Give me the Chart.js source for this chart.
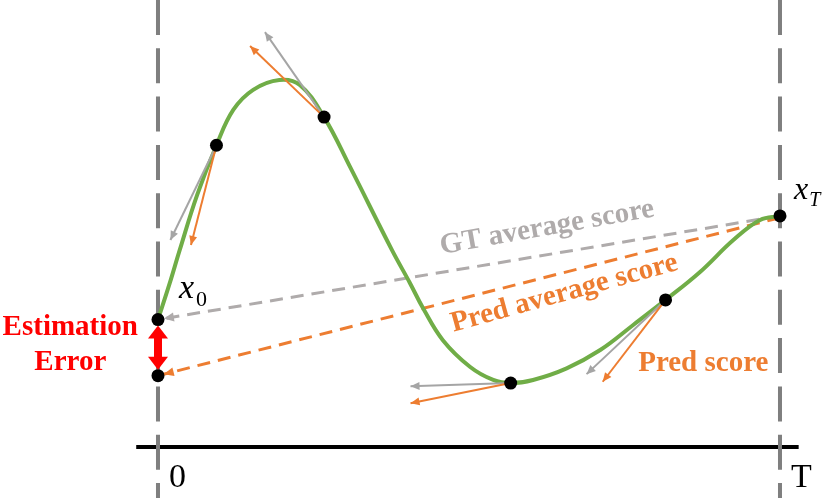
<!DOCTYPE html>
<html>
<head>
<meta charset="utf-8">
<title>Score estimation</title>
<script src="https://cdn.jsdelivr.net/npm/chart.js@4.4.1/dist/chart.umd.min.js"></script>
<style>
  html, body { margin: 0; padding: 0; background: #fff; }
  canvas { display: block; }
</style>
</head>
<body>
<canvas id="scoreChart" width="830" height="498"></canvas>
<script>
// time runs from 0 to T (T = 100), score 0 sits on the time axis
const T = 100;
const curveTime  = [0, 1.9, 3.5, 6.3, 9.4, 12.1, 15.3, 19.5, 22.8, 26.7, 30.9, 37.6, 40.5, 42.6, 45.8, 50.2, 53.9, 56.7, 60.3, 65.7, 71.1, 76.4, 81.6, 87.1, 92.5, 96.8, 100];
const curveScore = [28.5, 36.7, 44.1, 56.4, 67.5, 75.4, 79.9, 82.1, 81.0, 73.8, 62.6, 44.1, 36.7, 31.1, 23.9, 17.9, 15.0, 14.3, 15.0, 17.6, 21.7, 27.3, 32.9, 39.1, 46.3, 50.8, 51.7];

// sampled states (black dots)
const stateTime  = [0, 9.4, 26.7, 56.7, 81.6, 100];
const stateScore = [28.5, 67.5, 73.8, 14.3, 32.9, 51.7];
const predStartScore = 15.95;

// tangent arrows at the four inner states: where each arrow ends
const gtTipTime   = [2.0, 17.2, 40.6, 68.9];
const gtTipScore  = [46.3, 92.8, 13.6, 16.3];
const predTipTime  = [5.3, 14.8, 40.6, 71.5];
const predTipScore = [45.2, 89.7, 9.8, 14.6];

const timeTicks = ['0', 'T'];
const tickTime  = [0, T];

const X_MIN = -25.4, X_MAX = 108.04, Y_MIN = -11.41, Y_MAX = 100;

const GREEN = '#70AD47', ORANGE = '#ED7D31', GRAY = '#A5A5A5', LIGHT = '#AFABAB', GUIDE = '#7F7F7F', RED = '#FF0000';
const SERIF = '"Liberation Serif", "Times New Roman", serif';

const xy = (ts, vs) => ts.map((t, i) => ({ x: t, y: vs[i] }));

const datasets = [];

// time axis
datasets.push({ data: [{ x: -3.5, y: 0 }, { x: 103, y: 0 }], borderColor: '#000', borderWidth: 4, order: 9 });

// start / end guides
tickTime.forEach(t => {
    datasets.push({
        data: [{ x: t, y: Y_MAX }, { x: t, y: Y_MIN }],
        borderColor: GUIDE, borderWidth: 4, borderDash: [35, 13.3], order: 8
    });
});

// average score lines, drawn from x_T back to the start
datasets.push({
    data: [{ x: T, y: stateScore[5] }, { x: 0, y: stateScore[0] }],
    borderColor: LIGHT, borderWidth: 3, borderDash: [13, 8], order: 7,
    head: { len: 10, wid: 9, inset: 6 }
});
datasets.push({
    data: [{ x: T, y: stateScore[5] - 0.4 }, { x: 0, y: predStartScore }],
    borderColor: ORANGE, borderWidth: 3, borderDash: [13, 8], order: 6,
    head: { len: 10, wid: 9, inset: 6 }
});

// trajectory
datasets.push({
    data: xy(curveTime, curveScore),
    borderColor: GREEN, borderWidth: 4, tension: 0.4, order: 5
});

// tangent (score) arrows
for (let i = 0; i < 4; i++) {
    const from = { x: stateTime[i + 1], y: stateScore[i + 1] };
    datasets.push({ data: [from, { x: gtTipTime[i], y: gtTipScore[i] }], borderColor: GRAY, borderWidth: 2, order: 4, head: { len: 9, wid: 8 } });
    datasets.push({ data: [from, { x: predTipTime[i], y: predTipScore[i] }], borderColor: ORANGE, borderWidth: 2, order: 3, head: { len: 9, wid: 8 } });
}

// states
datasets.push({
    data: xy(stateTime, stateScore).concat([{ x: 0, y: predStartScore }]),
    showLine: false, pointRadius: 6.5, pointBackgroundColor: '#000', pointBorderWidth: 0, order: 2
});

// estimation error
datasets.push({
    data: [{ x: 0, y: stateScore[0] }, { x: 0, y: predStartScore }],
    showLine: false, pointRadius: 0, borderColor: RED, order: 1,
    head: { len: 13, wid: 20, inset: 6, both: true, shaft: 8 }
});

function drawHead(ctx, tip, ux, uy, len, wid) {
    const bx = tip.x - ux * len, by = tip.y - uy * len;
    ctx.beginPath();
    ctx.moveTo(tip.x, tip.y);
    ctx.lineTo(bx - uy * wid / 2, by + ux * wid / 2);
    ctx.lineTo(bx + uy * wid / 2, by - ux * wid / 2);
    ctx.closePath();
    ctx.fill();
}

function putText(ctx, str, x, y, font, color, align, angle) {
    ctx.save();
    ctx.translate(x, y);
    if (angle) ctx.rotate(angle * Math.PI / 180);
    ctx.font = font;
    ctx.fillStyle = color;
    ctx.textAlign = align || 'left';
    ctx.textBaseline = 'alphabetic';
    ctx.fillText(str, 0, 0);
    const w = ctx.measureText(str).width;
    ctx.restore();
    return w;
}

const decor = {
    id: 'decor',
    afterDatasetDraw(chart, args) {
        const ds = chart.data.datasets[args.index];
        const head = ds.head;
        if (!head) return;
        const pts = args.meta.data;
        const a = pts[0], b = pts[pts.length - 1];
        const d = Math.hypot(b.x - a.x, b.y - a.y);
        const ux = (b.x - a.x) / d, uy = (b.y - a.y) / d;
        const inset = head.inset || 0;
        const tip1 = { x: b.x - ux * inset, y: b.y - uy * inset };
        const tip0 = { x: a.x + ux * inset, y: a.y + uy * inset };
        const ctx = chart.ctx;
        ctx.save();
        ctx.fillStyle = ds.borderColor;
        if (head.shaft) {
            ctx.strokeStyle = ds.borderColor;
            ctx.lineWidth = head.shaft;
            ctx.beginPath();
            ctx.moveTo(tip0.x + ux * head.len * 0.9, tip0.y + uy * head.len * 0.9);
            ctx.lineTo(tip1.x - ux * head.len * 0.9, tip1.y - uy * head.len * 0.9);
            ctx.stroke();
        }
        drawHead(ctx, tip1, ux, uy, head.len, head.wid);
        if (head.both) drawHead(ctx, tip0, -ux, -uy, head.len, head.wid);
        ctx.restore();
    },
    afterDraw(chart) {
        const ctx = chart.ctx;
        const sx = chart.scales.x, sy = chart.scales.y;
        const px = t => sx.getPixelForValue(t), py = v => sy.getPixelForValue(v);

        // time labels
        timeTicks.forEach((lab, i) => {
            putText(ctx, lab, px(tickTime[i]) + 11, py(-8.9), '34px ' + SERIF, '#000', 'left');
        });

        // state names
        let w = putText(ctx, 'x', px(0) + 21, py(stateScore[0]) - 22, 'italic 34px ' + SERIF, '#000');
        putText(ctx, '0', px(0) + 21 + w + 2, py(stateScore[0]) - 14, '22px ' + SERIF, '#000');
        w = putText(ctx, 'x', px(T) + 14, py(stateScore[5]) - 17, 'italic 32px ' + SERIF, '#000');
        putText(ctx, 'T', px(T) + 14 + w + 1, py(stateScore[5]) - 10, 'italic 20px ' + SERIF, '#000');

        // annotations
        const bold = 'bold 29px ' + SERIF;
        putText(ctx, 'Estimation', px(-14.1), py(25.1), bold, RED, 'center');
        putText(ctx, 'Error', px(-14.1), py(17.2), bold, RED, 'center');
        putText(ctx, 'GT average score', px(45.6), py(43.2), bold, LIGHT, 'left', -10);
        putText(ctx, 'Pred average score', px(47.5), py(25.8), bold, ORANGE, 'left', -15.4);
        putText(ctx, 'Pred score', px(77.2), py(17.1), bold, ORANGE, 'left');
    }
};

new Chart(document.getElementById('scoreChart').getContext('2d'), {
    type: 'line',
    data: { datasets: datasets },
    options: {
        responsive: false,
        animation: false,
        events: [],
        layout: { padding: 0, autoPadding: false },
        elements: {
            point: { radius: 0 },
            line: { fill: false, tension: 0, borderCapStyle: 'butt' }
        },
        scales: {
            x: { type: 'linear', min: X_MIN, max: X_MAX, display: false },
            y: { type: 'linear', min: Y_MIN, max: Y_MAX, display: false }
        },
        plugins: {
            legend: { display: false },
            tooltip: { enabled: false }
        }
    },
    plugins: [decor]
});
</script>
</body>
</html>
